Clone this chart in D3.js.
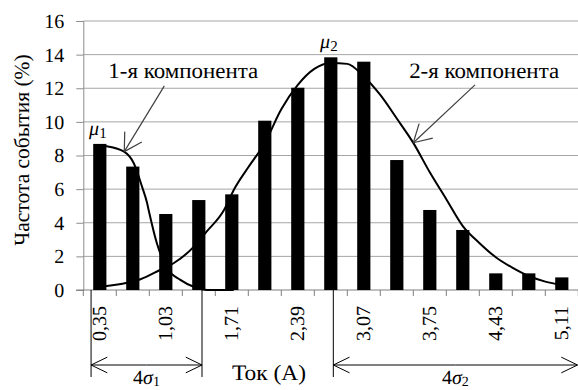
<!DOCTYPE html>
<html><head><meta charset="utf-8">
<script src="https://cdn.jsdelivr.net/npm/d3@7"></script>
<style>
body{margin:0;background:#fff}
svg{display:block;text-rendering:geometricPrecision}
</style>
</head><body>
<svg id="chart" width="578" height="390"></svg>
<script>
// ---- data ----
const categories = [0.35,0.69,1.03,1.37,1.71,2.05,2.39,2.73,3.07,3.41,3.75,4.09,4.43,4.77,5.11];
const frequency  = [8.69,7.34,4.52,5.35,5.69,10.07,12.03,13.84,13.58,7.73,4.76,3.57,0.99,0.99,0.75];
const tickLabels = ["0,35","1,03","1,71","2,39","3,07","3,75","4,43","5,11"];
const yTicks = [0,2,4,6,8,10,12,14,16];
// 1st component curve (current A, %)
const comp1X = [0.35,0.42,0.60,0.70,0.785,0.836,0.853,0.938,1.044,1.18,1.33,1.455,1.73];
const comp1Y = [8.60,8.55,8.23,7.54,6.15,5.20,4.76,2.78,1.29,0.60,0.16,0.00,0.00];
// 2nd component curve (current A, %)
const comp2X = [0.35,0.42,0.63,0.77,0.97,1.11,1.32,1.45,1.63,1.73,1.88,2.05,2.22,2.39,2.56,2.73,2.90,3.07,3.24,3.41,3.58,3.75,3.92,4.09,4.26,4.43,4.60,4.77,4.94,5.11];
const comp2Y = [0.20,0.24,0.43,0.64,1.19,1.59,2.58,3.47,4.76,5.95,7.30,8.75,10.75,12.20,13.15,13.50,13.45,12.70,11.60,10.20,8.75,7.00,5.40,3.80,2.80,1.95,1.33,0.83,0.50,0.30];
// annotations (data units)
const compLabels = [
  {text:"1-я компонента", x:1.21, y:12.61, tailX:1.015, tailY:12.14, tipX:0.602, tipY:8.23},
  {text:"2-я компонента", x:4.31, y:12.61, tailX:4.216, tailY:12.2, tipX:3.58, tipY:8.76}
];
const muLabels = [{sub:"1", x:0.24, y:9.2},{sub:"2", x:2.62, y:14.4}];
const sigmaSpans = [{sub:"1", from:0.26, to:1.403}, {sub:"2", from:2.756, to:5.28}];

const FONT = "Times New Roman, Liberation Serif, Tinos, serif";
const svg = d3.select("#chart");

// ---- layout ----
const mLeft = 83.3, mRight = 578.3, mTop = 21, mBottom = 290;
const x = d3.scaleBand().domain(categories).range([mLeft,mRight]).paddingInner(0.6).paddingOuter(0.3);
const bw = x.bandwidth();
const xc = d3.scaleLinear().domain([categories[0], categories[categories.length-1]])
  .range([x(categories[0])+bw/2, x(categories[categories.length-1])+bw/2]);
const y = d3.scaleLinear().domain([0,16]).range([mBottom, mTop]);

// grid
svg.append("g").selectAll("line").data(yTicks.filter(d=>d>0)).join("line")
  .attr("x1",mLeft).attr("x2",578).attr("y1",d=>y(d)).attr("y2",d=>y(d))
  .attr("stroke","#a6a6a6").attr("stroke-width",1);

// y axis
const ya = svg.append("g").attr("transform",`translate(${mLeft},0)`)
  .call(d3.axisLeft(y).tickValues(yTicks).tickSize(7).tickPadding(12));
ya.attr("font-family",FONT).attr("font-size",20);
ya.select(".domain").attr("stroke","#8c8c8c");
ya.selectAll(".tick line").attr("stroke","#8c8c8c");
ya.selectAll(".tick text").attr("font-family",FONT).attr("font-size",20).attr("fill","#000");

// x axis line + ticks at band boundaries
svg.append("line").attr("x1",mLeft-7).attr("x2",578).attr("y1",mBottom).attr("y2",mBottom)
  .attr("stroke","#7f7f7f");
const bounds = d3.range(categories.length+1).map(i=>mLeft+i*x.step());
svg.append("g").selectAll("line").data(bounds).join("line")
  .attr("x1",d=>d).attr("x2",d=>d).attr("y1",mBottom).attr("y2",mBottom+6)
  .attr("stroke","#7f7f7f");

// x tick labels
svg.append("g").selectAll("text").data(tickLabels).join("text")
  .attr("transform",(d,i)=>`translate(${x(categories[i*2])+bw/2},306) rotate(-90)`)
  .attr("text-anchor","end").attr("dy","0.33em").attr("font-size",20)
  .attr("font-family",FONT).text(d=>d);

// bars
svg.append("g").selectAll("rect").data(frequency).join("rect")
  .attr("x",(d,i)=>x(categories[i])).attr("width",bw)
  .attr("y",d=>y(d)).attr("height",d=>y(0)-y(d)).attr("fill","#000");

// curves
const line = d3.line().x(d=>xc(d[0])).y(d=>y(d[1])).curve(d3.curveMonotoneX);
svg.append("path").attr("d",line(d3.zip(comp1X,comp1Y))).attr("fill","none").attr("stroke","#000").attr("stroke-width",2);
svg.append("path").attr("d",line(d3.zip(comp2X,comp2Y))).attr("fill","none").attr("stroke","#000").attr("stroke-width",2);

// arrow helper
function arrow(g, x1,y1,x2,y2,len,ang,color,w){
  g.append("line").attr("x1",x1).attr("y1",y1).attr("x2",x2).attr("y2",y2).attr("stroke",color).attr("stroke-width",w);
  const a = Math.atan2(y1-y2,x1-x2);
  [ang,-ang].forEach(t=>{
    g.append("line").attr("x1",x2).attr("y1",y2)
      .attr("x2",x2+len*Math.cos(a+t)).attr("y2",y2+len*Math.sin(a+t))
      .attr("stroke",color).attr("stroke-width",w);
  });
}
const ann = svg.append("g");
compLabels.forEach(c=>{
  ann.append("text").attr("x",xc(c.x)).attr("y",y(c.y)).attr("text-anchor","middle")
    .attr("font-family",FONT).attr("font-size",22)
    .attr("textLength",150).attr("lengthAdjust","spacingAndGlyphs").text(c.text);
  arrow(ann, xc(c.tailX), y(c.tailY), xc(c.tipX), y(c.tipY), 20, Math.PI/6, "#404040", 1.2);
});
muLabels.forEach(m=>{
  const t = ann.append("text").attr("x",xc(m.x)).attr("y",y(m.y)).attr("font-size",20).attr("font-family",FONT);
  t.append("tspan").attr("font-style","italic").text("μ");
  t.append("tspan").attr("font-size",15).attr("dy",3).text(m.sub);
});

// sigma spans
sigmaSpans.forEach(s=>{
  const x1 = xc(s.from), x2 = xc(s.to);
  ann.append("line").attr("x1",x1).attr("x2",x1).attr("y1",mBottom).attr("y2",377).attr("stroke","#000");
  if (x2 < 578) ann.append("line").attr("x1",x2).attr("x2",x2).attr("y1",mBottom).attr("y2",377).attr("stroke","#000");
  const xe = Math.min(x2,577.5);
  arrow(ann, x1+(xe-x1)/2, 365, x1, 365, 18, 0.45, "#000", 1);
  arrow(ann, x1+(xe-x1)/2, 365, xe, 365, 18, 0.45, "#000", 1);
  const t = ann.append("text").attr("x",(x1+xe)/2).attr("y",384).attr("text-anchor","middle")
    .attr("font-size",20).attr("font-family",FONT);
  t.append("tspan").text("4");
  t.append("tspan").attr("font-style","italic").text("σ");
  t.append("tspan").attr("font-size",14).attr("dy",2).text(s.sub);
});

// axis titles
svg.append("text").attr("x",269).attr("y",380).attr("text-anchor","middle").attr("font-size",22)
  .attr("font-family",FONT).attr("textLength",74).attr("lengthAdjust","spacingAndGlyphs").text("Ток (А)");
svg.append("text").attr("transform","translate(29,150) rotate(-90)").attr("text-anchor","middle")
  .attr("font-family",FONT).attr("font-size",21.5).text("Частота события (%)");
</script>
</body></html>
